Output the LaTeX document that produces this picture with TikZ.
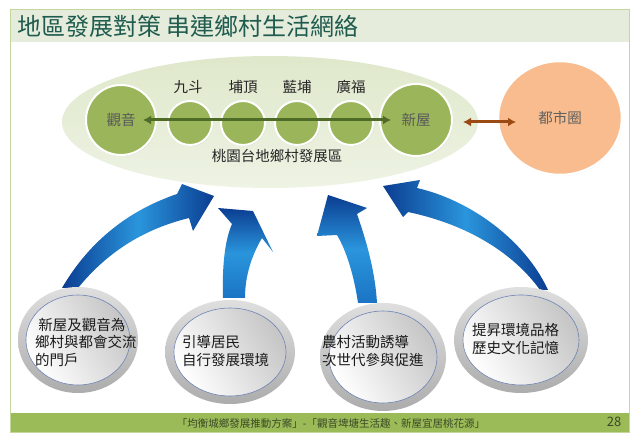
\documentclass[tikz,border=0pt]{standalone}
\usepackage{fontspec}
\setmainfont{Noto Sans CJK TC}
\usetikzlibrary{arrows.meta,shadows,shapes.geometric}
\definecolor{framec}{HTML}{C3D69B}
\definecolor{titlebg}{HTML}{E5ECDC}
\definecolor{titlec}{HTML}{1F5C4F}
\definecolor{footc}{HTML}{9BBB59}
\definecolor{foottext}{HTML}{3B4A25}
\definecolor{regtop}{HTML}{DFE8CB}
\definecolor{regbot}{HTML}{EEF3E4}
\definecolor{olivec}{HTML}{9BB55A}
\definecolor{salmon}{HTML}{F8BC8E}
\definecolor{greenarr}{HTML}{4F6B28}
\definecolor{brownarr}{HTML}{9A4A12}
\definecolor{navy}{HTML}{0B3D91}
\definecolor{midblue}{HTML}{1B74C4}
\definecolor{lightblue}{HTML}{2A95DC}
\definecolor{rimline}{HTML}{6F84B5}
\begin{document}
\begin{tikzpicture}[x=1pt,y=-1pt,
  gcirc/.style={circle, fill=olivec, draw=white, line width=2pt, text=black!65,
    font=\fontsize{14.5}{16}\selectfont, inner sep=0pt,
    drop shadow={opacity=0.25, shadow xshift=0.8pt, shadow yshift=-1pt}},
  toplab/.style={font=\fontsize{14.5}{16}\selectfont, text=black!85, inner sep=0pt},
  rimring/.style={ellipse, draw=none, top color=gray!25, bottom color=gray!65, inner sep=0pt},
  rimface/.style={ellipse, draw=rimline, line width=0.6pt, left color=white, right color=gray!45,
    shading angle=120, inner sep=0pt},
  ctext/.style={font=\fontsize{14.5}{17.5}\selectfont, align=left, anchor=west, inner sep=0pt, text=black!90},
  bluearr/.style={left color=navy, right color=navy, middle color=lightblue},
  bluearrv/.style={top color=navy, bottom color=midblue, middle color=lightblue},
  link/.style={line width=3pt, {Latex[length=8pt,width=9pt]}-{Latex[length=8pt,width=9pt]}}
]
\useasboundingbox (0,0) rectangle (640,443);
\fill[white] (0,0) rectangle (640,443);
% frame, title bar, footer
\fill[titlebg] (10,10) rectangle (629,42);
\fill[footc] (10,413) rectangle (629,433);
\draw[framec, line width=1pt] (10,10) rectangle (629,433);
\node[anchor=west, font=\fontsize{24}{24}\selectfont, text=titlec, inner sep=0pt] (title) at (17,26) {地區發展對策 串連鄉村生活網絡};
\node[font=\fontsize{10.5}{10.5}\selectfont, text=foottext, inner sep=0pt] (foot) at (331,423) {「均衡城鄉發展推動方案」-「觀音埤塘生活趣、新屋宜居桃花源」};
\node[font=\fontsize{13}{13}\selectfont, text=foottext, inner sep=0pt] (page) at (614,422) {28};

% region ellipse
\node[ellipse, top color=regtop, bottom color=regbot, draw=none, minimum width=416pt, minimum height=132pt, inner sep=0pt] (region) at (270,122) {};

% village circles
\node[gcirc, minimum size=70pt] (gy) at (121,120) {觀音};
\node[gcirc, minimum size=44pt] (jd) at (190,123) {};
\node[gcirc, minimum size=44pt] (bd) at (243,123) {};
\node[gcirc, minimum size=44pt] (lb) at (297,123) {};
\node[gcirc, minimum size=44pt] (gf) at (351,123) {};
\node[gcirc, minimum size=72pt] (xw) at (416,120) {新屋};
\node[toplab] (ljd) at (188,87) {九斗};
\node[toplab] (lbd) at (243,87) {埔頂};
\node[toplab] (llb) at (297,87) {藍埔};
\node[toplab] (lgf) at (351,87) {廣福};
\node[toplab] (lreg) at (277,156) {桃園台地鄉村發展區};

% city
\node[ellipse, fill=salmon, draw=white, line width=2.5pt, minimum width=124pt, minimum height=114pt,
  inner sep=0pt, text=black!62, font=\fontsize{14.5}{16}\selectfont,
  drop shadow={opacity=0.2, shadow xshift=0.8pt, shadow yshift=-1pt}] (city) at (560,118) {都市圈};

% links
\draw[link, greenarr, shorten <=22pt, shorten >=25pt] (gy.center) -- (xw.center);
\coordinate (ba) at (463,122);
\coordinate (bb) at (516,122);
\draw[link, brownarr] (ba) -- (bb);

% blue curved arrows
\shade[bluearr] (62,288) .. controls (90,240) and (130,210) .. (177,194) -- (182,184) -- (214,196) -- (193,231)
  -- (189,218) .. controls (140,230) and (105,255) .. (78,288) -- cycle;
\shade[bluearrv] (223,298) .. controls (222,265) and (225,240) .. (232,224) -- (218,208) -- (253,211) -- (273,252)
  -- (262,238) .. controls (252,255) and (245,275) .. (245,298) -- cycle;
\shade[bluearrv] (358,303) .. controls (354,275) and (346,250) .. (337,235) -- (317,236) -- (328,195) -- (367,208)
  -- (357,214) .. controls (366,240) and (375,270) .. (377,303) -- cycle;
\shade[bluearr] (540,290) .. controls (515,255) and (470,225) .. (408,212) -- (403,217) -- (383,186) -- (420,180)
  -- (417,188) .. controls (470,200) and (525,240) .. (548,290) -- cycle;

% bottom circles
\node[rimring, minimum width=120pt, minimum height=106pt] (c1) at (78,340) {};
\node[rimface, minimum width=104pt, minimum height=90pt] (f1) at (c1) {};
\node[ctext] (t1) at (35,342) {\ 新屋及觀音為\\鄉村與都會交流\\的門戶};

\node[rimring, minimum width=130pt, minimum height=104pt] (c2) at (230,352) {};
\node[rimface, minimum width=112pt, minimum height=88pt] (f2) at (c2) {};
\node[ctext] (t2) at (182,351) {引導居民\\自行發展環境};

\node[rimring, minimum width=126pt, minimum height=108pt] (c3) at (383,357) {};
\node[rimface, minimum width=108pt, minimum height=92pt] (f3) at (c3) {};
\node[ctext] (t3) at (322,351) {農村活動誘導\\次世代參與促進};

\node[rimring, minimum width=134pt, minimum height=106pt] (c4) at (521,340) {};
\node[rimface, minimum width=116pt, minimum height=90pt] (f4) at (c4) {};
\node[ctext] (t4) at (472,339) {提昇環境品格\\歷史文化記憶};
\end{tikzpicture}
\end{document}
